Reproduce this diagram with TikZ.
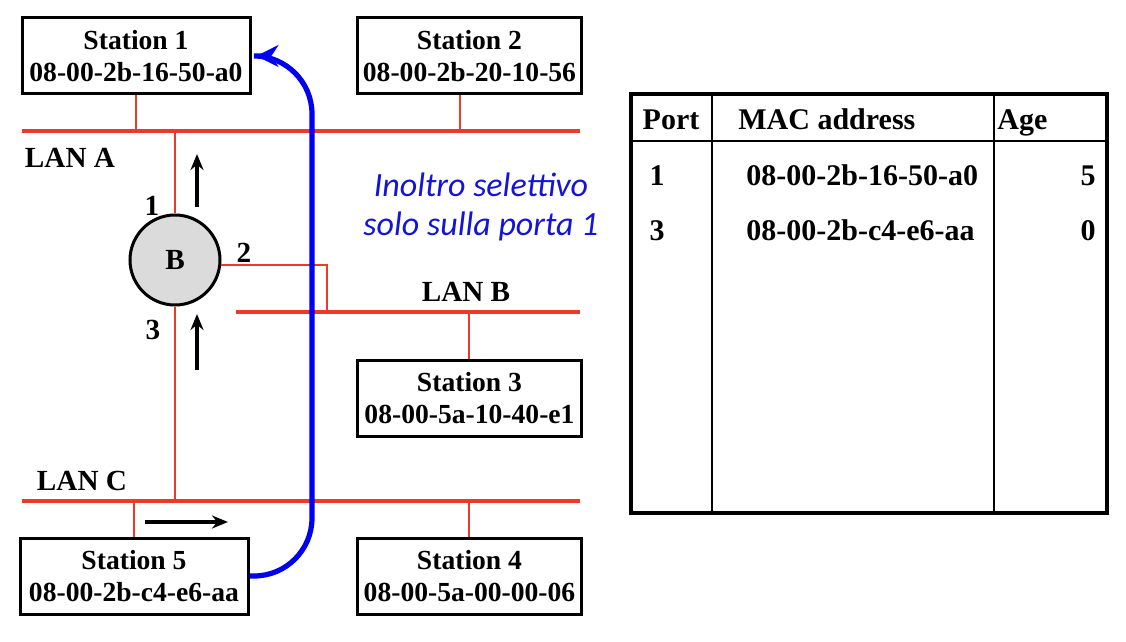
\documentclass[tikz,border=0pt]{standalone}
\usepackage{fontspec}
\setmainfont{Liberation Serif}
\newfontfamily\notefont{Carlito}
\usetikzlibrary{arrows.meta}
\usetikzlibrary{calc,positioning}

\definecolor{lanred}{RGB}{236,58,42}
\definecolor{fwdblue}{RGB}{0,0,245}
\definecolor{noteblue}{RGB}{20,20,215}

\tikzset{
    station/.style={draw, line width=1.5pt, minimum height=38pt, inner sep=0pt, align=center,
        font=\fontsize{13.8}{15.6}\selectfont\bfseries},
    bridge/.style={circle, draw, line width=1.5pt, fill=black!14, minimum size=45pt, inner sep=0pt,
        font=\fontsize{14.6}{16}\selectfont\bfseries},
    lan/.style={lanred, line width=1.6pt},
    drop/.style={lanred, line width=0.9pt},
    lbl/.style={inner sep=0pt, font=\fontsize{14.6}{16}\selectfont\bfseries},
    flow/.style={-{Stealth[length=8pt,width=6.5pt]}, line width=1.6pt},
    tabtxt/.style={inner sep=0pt, font=\fontsize{15}{17}\selectfont\bfseries},
}

\begin{document}
\begin{tikzpicture}[x=0.5pt, y=-0.5pt]
    \useasboundingbox (0,0) rectangle (1126,642);

    % stazioni e bridge
    \node[station, minimum width=114pt] (st1) at (136,56) {Station 1\\08-00-2b-16-50-a0};
    \node[station, minimum width=112pt] (st2) at (469.5,56) {Station 2\\08-00-2b-20-10-56};
    \node[station, minimum width=112pt] (st3) at (469.5,398) {Station 3\\08-00-5a-10-40-e1};
    \node[station, minimum width=112pt] (st4) at (469.5,576) {Station 4\\08-00-5a-00-00-06};
    \node[station, minimum width=114pt] (st5) at (134,576) {Station 5\\08-00-2b-c4-e6-aa};
    \node[bridge] (B) at (175,260) {B};

    % LAN
    \draw[lan] (22,131) coordinate (lanA-w) -- (580,131) coordinate (lanA-e);
    \draw[lan] (236,312) coordinate (lanB-w) -- (580,312) coordinate (lanB-e);
    \draw[lan] (22,501) coordinate (lanC-w) -- (580,501) coordinate (lanC-e);
    \node[lbl] (labA) at (70,158) {LAN A};
    \node[lbl] (labB) at (466,292) {LAN B};
    \node[lbl] (labC) at (82,481) {LAN C};

    % collegamenti
    \draw[drop] (st1.south) -- (st1.south |- lanA-w);
    \draw[drop] ([xshift=-4.75pt]st2.south) -- ([xshift=-4.75pt]st2.south |- lanA-w);
    \draw[drop] (B.north) -- (B.north |- lanA-w);
    \draw[drop] (B.-6) -| (327,312) coordinate (k2);
    \draw[drop] (B.south) -- (B.south |- lanC-w);
    \draw[drop] ([xshift=-0.25pt]st3.north) -- ([xshift=-0.25pt]st3.north |- lanB-w);
    \draw[drop] ([xshift=-0.25pt]st4.north) -- ([xshift=-0.25pt]st4.north |- lanC-w);
    \draw[drop] (st5.north) -- (st5.north |- lanC-w);

    % porte
    \node[lbl] (port1) at (152,206) {1};
    \node[lbl] (port2) at (244,253) {2};
    \node[lbl] (port3) at (153,330) {3};

    % frecce del frame
    \draw[flow] (197,207) coordinate (f1) -- (197,154) coordinate (f1e);
    \draw[flow] (197,370) coordinate (f3) -- (197,314) coordinate (f3e);
    \draw[flow] (145,522) coordinate (f5) -- (228,522) coordinate (f5e);

    % inoltro selettivo
    \coordinate (bend) at (312,0);
    \draw[fwdblue, line width=2.6pt, rounded corners=29pt, -{Stealth[length=11pt,width=11pt]}, shorten >=2.5pt]
        (st5.east) -| (bend |- st1.east) -- (st1.east);
    \node[align=center, text=noteblue, font=\fontsize{17}{19.5}\selectfont\notefont\itshape] (note)
        at (481,207) {Inoltro selettivo\\solo sulla porta 1};

    % tabella
    \draw[line width=1.8pt] (631,94) coordinate (tab-nw) rectangle (1107,513) coordinate (tab-se);
    \draw[line width=1pt] (631,141) -- (1107,141);
    \draw[line width=1pt] (712,94) -- (712,513);
    \draw[line width=1pt] (994,94) -- (994,513);
    \node[tabtxt, anchor=base] (hport) at (671,130) {Port};
    \node[tabtxt, anchor=base west] (hmac) at (738,130) {MAC address};
    \node[tabtxt, anchor=base west] (hage) at (997,130) {Age};
    \node[tabtxt, anchor=base] (r1port) at (657,186) {1};
    \node[tabtxt, anchor=base west] (r1mac) at (746,186) {08-00-2b-16-50-a0};
    \node[tabtxt, anchor=base east] (r1age) at (1096,186) {5};
    \node[tabtxt, anchor=base] (r2port) at (657,241) {3};
    \node[tabtxt, anchor=base west] (r2mac) at (746,241) {08-00-2b-c4-e6-aa};
    \node[tabtxt, anchor=base east] (r2age) at (1096,241) {0};
\end{tikzpicture}
\end{document}
